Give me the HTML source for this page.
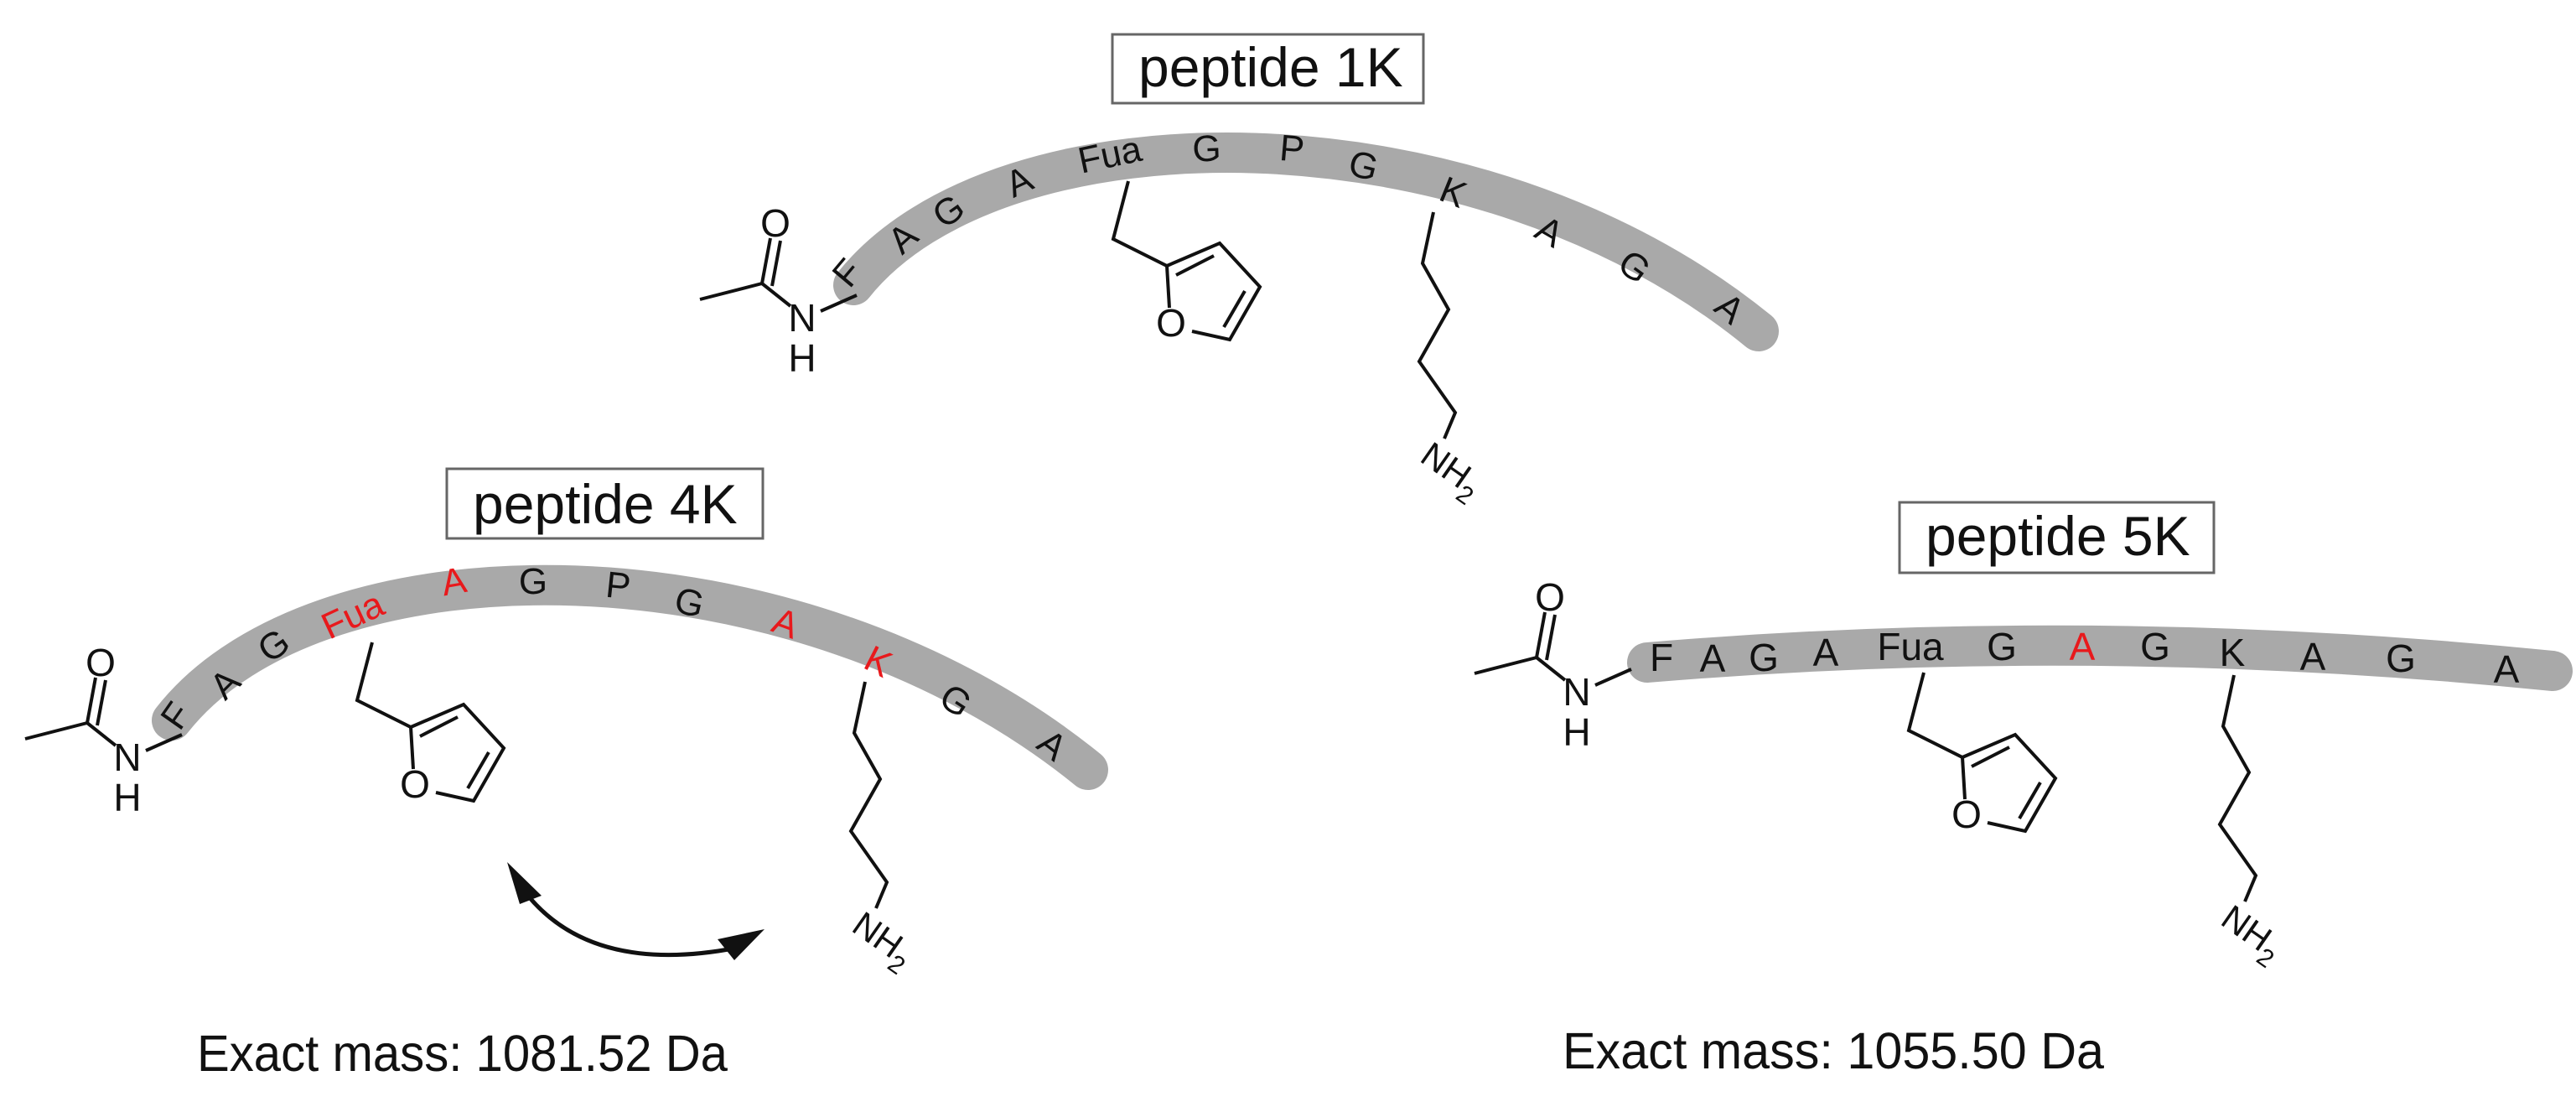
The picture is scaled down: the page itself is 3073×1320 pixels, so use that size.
<!DOCTYPE html>
<html><head><meta charset="utf-8"><style>
html,body{margin:0;padding:0;background:#fff;}
svg{display:block;}
text{font-family:"Liberation Sans",Arial,sans-serif;}
</style></head><body>
<svg width="3073" height="1320" viewBox="0 0 3073 1320" xmlns="http://www.w3.org/2000/svg">
<defs>
<g id="acetyl" stroke="#111" stroke-width="4" fill="none">
  <line x1="-122" y1="-22" x2="-48" y2="-41"/>
  <line x1="-48" y1="-41" x2="-14" y2="-14"/>
  <line x1="-48" y1="-41" x2="-38" y2="-95"/>
  <line x1="-36" y1="-38" x2="-26" y2="-92"/>
  <line x1="22" y1="-8" x2="65" y2="-27"/>
  <text x="0" y="16" font-size="46" text-anchor="middle" fill="#111" stroke="none">N</text>
  <text x="0" y="64" font-size="46" text-anchor="middle" fill="#111" stroke="none">H</text>
  <text x="-32" y="-97" font-size="46" text-anchor="middle" fill="#111" stroke="none">O</text>
</g>
<g id="furan" stroke="#111" stroke-width="4" fill="none">
  <polyline points="0,0 -18,69 46,101 109,74 157,126 121,189 76,179"/>
  <line x1="46" y1="101" x2="49" y2="151"/>
  <line x1="57" y1="112" x2="102" y2="89"/>
  <line x1="139" y1="131" x2="114" y2="174"/>
  <text x="51" y="185" font-size="46" text-anchor="middle" fill="#111" stroke="none">O</text>
</g>
<g id="lys" stroke="#111" stroke-width="4" fill="none">
  <polyline points="0,0 -13,61 18,116 -17,178 26,239 13,270"/>
  <text x="0" y="0" font-size="42" fill="#111" stroke="none" transform="translate(-18,296) rotate(35)">NH<tspan font-size="30" dy="12">2</tspan></text>
</g>
</defs>

<!-- peptide 1K -->
<rect x="1327" y="41" width="371" height="82" fill="none" stroke="#666" stroke-width="3"/>
<text x="1358" y="103" font-size="66" fill="#111">peptide 1K</text>
<path d="M1018,340 C1193,121 1763,121 2098,395" stroke="#a9a9a9" stroke-width="48" fill="none" stroke-linecap="round"/>
<g font-size="44" fill="#111" text-anchor="middle">
<text transform="translate(1022,335) rotate(-50)">F</text>
<text transform="translate(1087,295) rotate(-42)">A</text>
<text transform="translate(1140,264) rotate(-35)">G</text>
<text transform="translate(1222,230) rotate(-25)">A</text>
<text transform="translate(1327,199) rotate(-12)">Fua</text>
<text transform="translate(1440,192) rotate(-2)">G</text>
<text transform="translate(1540,192) rotate(5)">P</text>
<text transform="translate(1623,212) rotate(14)">G</text>
<text transform="translate(1728,243) rotate(22)">K</text>
<text transform="translate(1841,289) rotate(30)">A</text>
<text transform="translate(1941,330) rotate(36)">G</text>
<text transform="translate(2054,379) rotate(40)">A</text>
</g>
<use href="#acetyl" x="957" y="379"/>
<use href="#furan" x="1346" y="216"/>
<use href="#lys" x="1710" y="253"/>

<!-- peptide 4K -->
<rect x="533" y="559" width="377" height="83" fill="none" stroke="#666" stroke-width="3"/>
<text x="564" y="624" font-size="66" fill="#111">peptide 4K</text>
<path d="M205,859 C380,635 950,635 1298,918" stroke="#a9a9a9" stroke-width="48" fill="none" stroke-linecap="round"/>
<g font-size="44" fill="#111" text-anchor="middle">
<text transform="translate(222,862) rotate(-55)">F</text>
<text transform="translate(279,826) rotate(-45)">A</text>
<text transform="translate(335,782) rotate(-35)">G</text>
<text transform="translate(427,747) rotate(-25)" fill="#e8191c">Fua</text>
<text transform="translate(544,708) rotate(-10)" fill="#e8191c">A</text>
<text transform="translate(636,708) rotate(0)">G</text>
<text transform="translate(736,713) rotate(6)">P</text>
<text transform="translate(819,733) rotate(13)">G</text>
<text transform="translate(932,757) rotate(20)" fill="#e8191c">A</text>
<text transform="translate(1041,802) rotate(27)" fill="#e8191c">K</text>
<text transform="translate(1132,848) rotate(33)">G</text>
<text transform="translate(1246,900) rotate(38)">A</text>
</g>
<use href="#acetyl" x="152" y="903"/>
<use href="#furan" x="444" y="766"/>
<use href="#lys" x="1032" y="813"/>
<!-- arrow -->
<path d="M622,1058 Q700,1165 880,1130" stroke="#111" stroke-width="5" fill="none"/>
<polygon points="605,1028 646,1068 620,1078" fill="#111"/>
<polygon points="912,1108 876,1145 856,1120" fill="#111"/>
<text x="235" y="1277" font-size="61" fill="#111" textLength="633" lengthAdjust="spacingAndGlyphs">Exact mass: 1081.52 Da</text>

<!-- peptide 5K -->
<rect x="2266" y="599" width="375" height="84" fill="none" stroke="#666" stroke-width="3"/>
<text x="2297" y="662" font-size="66" fill="#111">peptide 5K</text>
<path d="M1965,790 Q2500,745 3045,800" stroke="#a9a9a9" stroke-width="48" fill="none" stroke-linecap="round"/>
<g font-size="46" fill="#111" text-anchor="middle">
<text x="1982" y="800">F</text>
<text x="2043" y="801">A</text>
<text x="2104" y="800">G</text>
<text x="2178" y="794">A</text>
<text x="2279" y="787">Fua</text>
<text x="2388" y="787">G</text>
<text x="2484" y="787" fill="#e8191c">A</text>
<text x="2571" y="787">G</text>
<text x="2663" y="794">K</text>
<text x="2759" y="799">A</text>
<text x="2864" y="801">G</text>
<text x="2990" y="814">A</text>
</g>
<use href="#acetyl" x="1881" y="825"/>
<use href="#furan" x="2295" y="802"/>
<use href="#lys" x="2665" y="805"/>
<text x="1864" y="1274" font-size="61" fill="#111" textLength="646" lengthAdjust="spacingAndGlyphs">Exact mass: 1055.50 Da</text>
</svg>
</body></html>
